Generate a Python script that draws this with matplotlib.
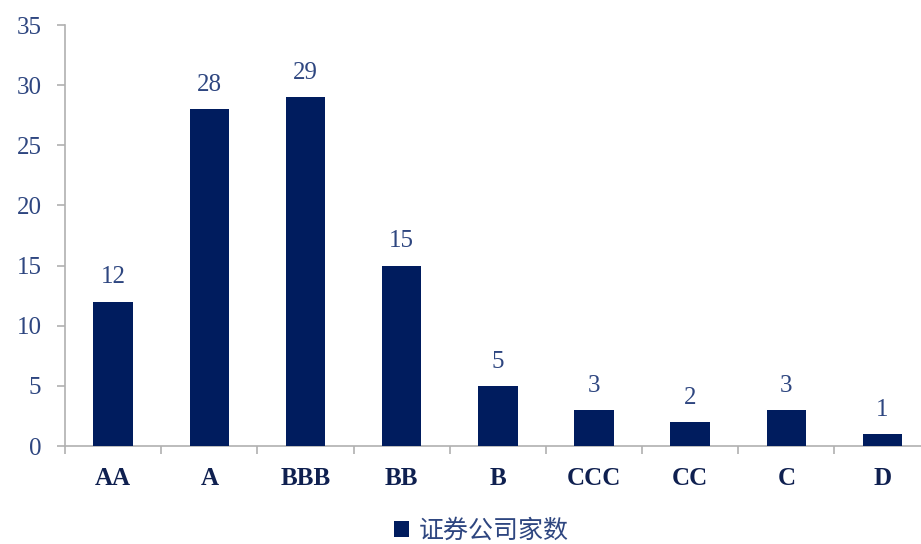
import matplotlib.pyplot as plt
import numpy as np

ratings = ['AA', 'A', 'BBB', 'BB', 'B', 'CCC', 'CC', 'C', 'D']
counts = [12, 28, 29, 15, 5, 3, 2, 3, 1]
yticks = [0, 5, 10, 15, 20, 25, 30, 35]

serif = ['Liberation Serif', 'DejaVu Serif']
bar_color = '#001c5e'
label_color = '#2e4680'

fig = plt.figure(figsize=(9.21, 5.44), dpi=100)
ax = fig.add_axes([0.0706, 0.180, 0.9294, 0.774])

x = np.arange(len(ratings))
bars = ax.bar(x, counts, width=0.41, color=bar_color, label='证券公司家数', zorder=3)

for xi, v in zip(x, counts):
    ax.text(xi, v + 1.1, str(v), ha='center', va='bottom', fontsize=18,
            family=serif, color=label_color)

ax.set_xlim(-0.5, 8.40)
ax.set_ylim(0, 35)
ax.set_yticks(yticks)
ax.set_yticklabels([str(t) for t in yticks], family=serif, fontsize=18, color=label_color)

# category labels between boundary ticks
ax.set_xticks(np.arange(-0.5, 8.4, 1.0))
ax.set_xticklabels([])
ax.set_xticks(x, minor=True)
ax.set_xticklabels(ratings, minor=True, family=serif, fontsize=18,
                   fontweight='bold', color='#0f2050')
ax.tick_params(axis='x', which='minor', length=0, pad=15)
ax.tick_params(axis='x', which='major', length=6, color='#b0b0b0', width=1.2, direction='out')
ax.tick_params(axis='y', length=6, color='#b0b0b0', width=1.2, pad=11)

for s in ['top', 'right']:
    ax.spines[s].set_visible(False)
for s in ['left', 'bottom']:
    ax.spines[s].set_color('#b0b0b0')
    ax.spines[s].set_linewidth(1.2)

leg = fig.legend(handles=[bars], labels=['证券公司家数'], loc='center',
                 bbox_to_anchor=(0.523, 0.024), frameon=False, handlelength=0.6,
                 handleheight=0.6, handletextpad=0.4,
                 prop={'family': ['Noto Sans CJK SC', 'DejaVu Sans'], 'size': 18})
for t in leg.get_texts():
    t.set_color(label_color)

fig.savefig('out.png', dpi=100)
